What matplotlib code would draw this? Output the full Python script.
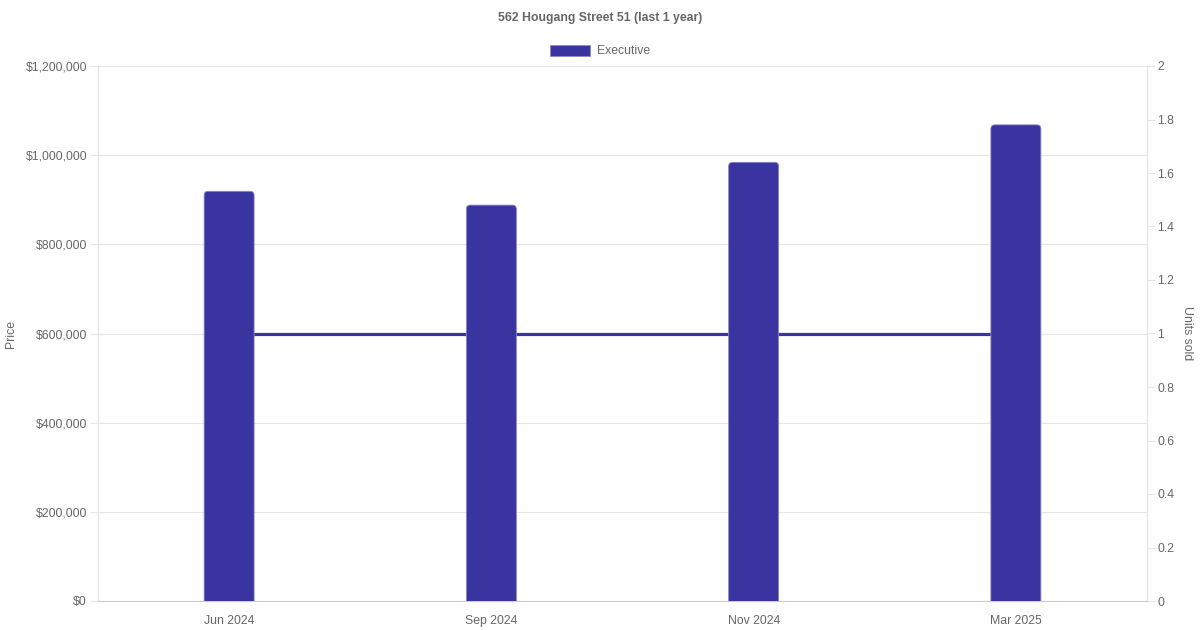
import matplotlib
matplotlib.use("Agg")
import matplotlib.pyplot as plt
import matplotlib.transforms as mtransforms
from matplotlib.patches import FancyBboxPatch, Patch
from matplotlib.ticker import FuncFormatter, MultipleLocator
import numpy as np

plt.rcParams['font.family'] = ['Liberation Sans', 'DejaVu Sans']

categories = ["Jun 2024", "Sep 2024", "Nov 2024", "Mar 2025"]
prices = [919000, 888000, 984000, 1068000]
units_sold = [1, 1, 1, 1]
series_name = "Executive"
title = "562 Hougang Street 51 (last 1 year)"

BAR_COLOR = "#3a34a0"
EDGE_COLOR = "#8c88cc"
TEXT = "#666666"
GRID = "#e5e5e5"
FS = 8.8
PX = 0.72  # points per pixel

W, H, DPI = 1200, 630, 100
fig = plt.figure(figsize=(W / DPI, H / DPI), dpi=DPI)
left, right, top, bottom = 98, 1147, 66, 601
ax2 = fig.add_axes([left / W, 1 - bottom / H, (right - left) / W, (bottom - top) / H])
ax = ax2.twinx()
ax.yaxis.tick_left()
ax.yaxis.set_label_position('left')
ax2.yaxis.tick_right()
ax2.yaxis.set_label_position('right')
ax.xaxis.set_visible(True)
ax2.xaxis.set_visible(False)

x = np.arange(len(categories))
ax.set_xlim(-0.5, len(categories) - 0.5)
ax.set_ylim(0, 1200000)
ax2.set_ylim(0, 2)

# line in units-sold scale, drawn on the price axes (above grid, below bars)
trans = mtransforms.blended_transform_factory(ax.transData, ax2.transData)
ax.plot(x, units_sold, color=BAR_COLOR, lw=2.3, solid_capstyle='butt',
        transform=trans, zorder=2.5)

# bars with rounded top corners
bw = 50 / ((right - left) / len(categories))
bars = ax.bar(x, prices, width=bw, color=BAR_COLOR)
x_per_px = 1.0 / ((right - left) / len(categories))
y_per_px = 1200000 / (bottom - top)
r_px = 4
for b in bars:
    bx, bwid, bh = b.get_x(), b.get_width(), b.get_height()
    b.remove()
    p = FancyBboxPatch((bx, -r_px * 2 * y_per_px), bwid, bh + r_px * 2 * y_per_px,
                       boxstyle=f"round,pad=0,rounding_size={r_px * x_per_px}",
                       mutation_aspect=y_per_px / x_per_px,
                       facecolor=BAR_COLOR, edgecolor=EDGE_COLOR, lw=0.6,
                       zorder=3, clip_on=True)
    ax.add_patch(p)

# axes styling
ax.yaxis.set_major_locator(MultipleLocator(200000))
ax.yaxis.set_major_formatter(FuncFormatter(lambda v, p: f"${v:,.0f}"))
ax2.yaxis.set_major_locator(MultipleLocator(0.2))
ax2.yaxis.set_major_formatter(FuncFormatter(lambda v, p: f"{v:g}"))
ax.set_xticks(x)
ax.set_xticklabels(categories)
ax.grid(axis='y', color=GRID, lw=0.8, zorder=0)
ax.set_axisbelow(True)

for a in (ax, ax2):
    for s in a.spines.values():
        s.set_color(GRID)
        s.set_linewidth(0.8)
    a.spines['top'].set_visible(False)
ax.spines['bottom'].set_color("#cccccc")
ax2.spines['bottom'].set_visible(False)

ax.tick_params(axis='y', length=8 * PX, color=GRID, labelcolor=TEXT, labelsize=FS, pad=3 * PX)
ax.tick_params(axis='x', length=0, labelcolor=TEXT, labelsize=FS, pad=14 * PX)
ax2.tick_params(axis='y', length=8 * PX, color=GRID, labelcolor=TEXT, labelsize=FS, pad=2 * PX)

ax.set_ylabel("Price", color=TEXT, fontsize=FS)
ax2.set_ylabel("Units sold", color=TEXT, fontsize=FS, rotation=270)
pw = right - left
ax.yaxis.set_label_coords((17 - left) / pw, 0.5)
ax2.yaxis.set_label_coords((1181 - left) / pw, 0.5)
ax2.yaxis.label.set_verticalalignment('bottom')

fig.text(0.5, 1 - 18.5 / H, title, ha='center', va='center', fontsize=FS,
         fontweight='bold', color=TEXT)

handle = Patch(facecolor=BAR_COLOR, edgecolor=EDGE_COLOR, lw=0.6)
leg = fig.legend([handle], [series_name], loc='center', bbox_to_anchor=(0.5, 1 - 51 / H),
                 frameon=False, fontsize=FS, labelcolor=TEXT, handlelength=3.3,
                 handleheight=1.0, handletextpad=0.55, borderpad=0)

fig.savefig("out.png", dpi=DPI)
